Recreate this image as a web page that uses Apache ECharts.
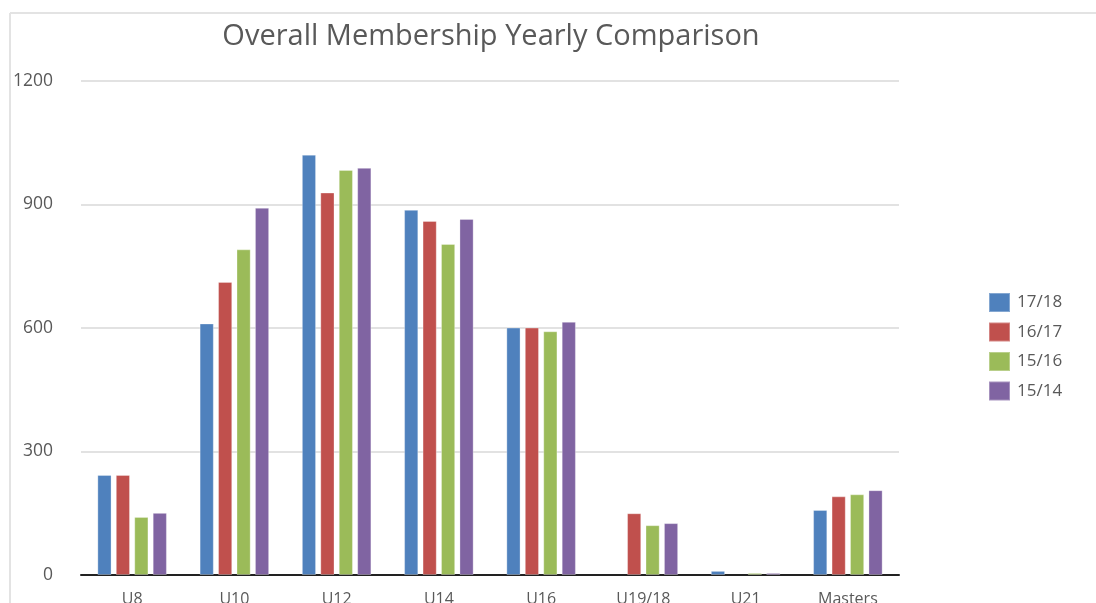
<!DOCTYPE html>
<html>
<head>
<meta charset="utf-8">
<script src="https://cdn.jsdelivr.net/npm/echarts@6/dist/echarts.min.js"></script>
<style>
html,body{margin:0;padding:0;background:#fff;}
#chart{width:1096px;height:603px;}
</style>
</head>
<body>
<div id="chart"></div>
<script>
var categories = ['U8', 'U10', 'U12', 'U14', 'U16', 'U19/18', 'U21', 'Masters'];
var seriesNames = ['17/18', '16/17', '15/16', '15/14'];
var s1718 = [243, 611, 1021, 887, 601, null, 10, 158];
var s1617 = [243, 712, 929, 860, 601, 150, null, 191];
var s1516 = [141, 791, 984, 804, 592, 121, 5, 196];
var s1514 = [151, 892, 989, 865, 615, 126, 5, 206];
var yTicks = [0, 300, 600, 900, 1200];

var colors = ['#4F81BD', '#C0504D', '#9BBB59', '#8064A2'];
var values = [s1718, s1617, s1516, s1514];

var chart = echarts.init(document.getElementById('chart'));
var series = seriesNames.map(function (n, i) {
  return {
    name: n,
    type: 'bar',
    data: values[i],
    barGap: '30%',
    barCategoryGap: '32%',
    itemStyle: { color: colors[i], borderColor: 'rgba(255,255,255,0.3)', borderWidth: 1 }
  };
});

chart.setOption({
  animation: false,
  textStyle: { fontFamily: 'Open Sans' },
  title: {
    text: 'Overall Membership Yearly Comparison',
    left: 486, top: 17, textAlign: 'center',
    textStyle: { fontFamily: 'Open Sans', fontSize: 29, fontWeight: 'normal', color: '#595959' }
  },
  legend: {
    orient: 'vertical',
    left: 983, top: 287,
    itemWidth: 21, itemHeight: 19, itemGap: 8.5,
    icon: 'rect',
    textStyle: { fontFamily: 'Open Sans', fontSize: 17, color: '#595959', padding: [0, 0, 0, 2] },
    data: seriesNames
  },
  grid: { left: 81, right: 197, top: 81, bottom: 28, containLabel: false, outerBoundsMode: 'none' },
  xAxis: {
    type: 'category',
    data: categories,
    axisLine: { show: true, lineStyle: { color: '#222', width: 2 } },
    axisTick: { show: false },
    axisLabel: { fontFamily: 'Open Sans', fontSize: 16, color: '#595959', margin: 16 }
  },
  yAxis: {
    type: 'value',
    min: yTicks[0], max: yTicks[yTicks.length - 1], interval: 300,
    axisLine: { show: false },
    axisTick: { show: false },
    splitLine: { lineStyle: { color: '#d9d9d9', width: 1.5 } },
    axisLabel: { fontFamily: 'Open Sans', fontSize: 17.5, color: '#595959', margin: 28,
      formatter: function (v) { return String(v); } }
  },
  graphic: [
    { type: 'line', shape: { x1: 10, y1: 13, x2: 1096, y2: 13 }, style: { stroke: '#e3e3e3', lineWidth: 2 } },
    { type: 'line', shape: { x1: 10, y1: 13, x2: 10, y2: 603 }, style: { stroke: '#e3e3e3', lineWidth: 2 } }
  ],
  series: series
});
</script>
</body>
</html>
